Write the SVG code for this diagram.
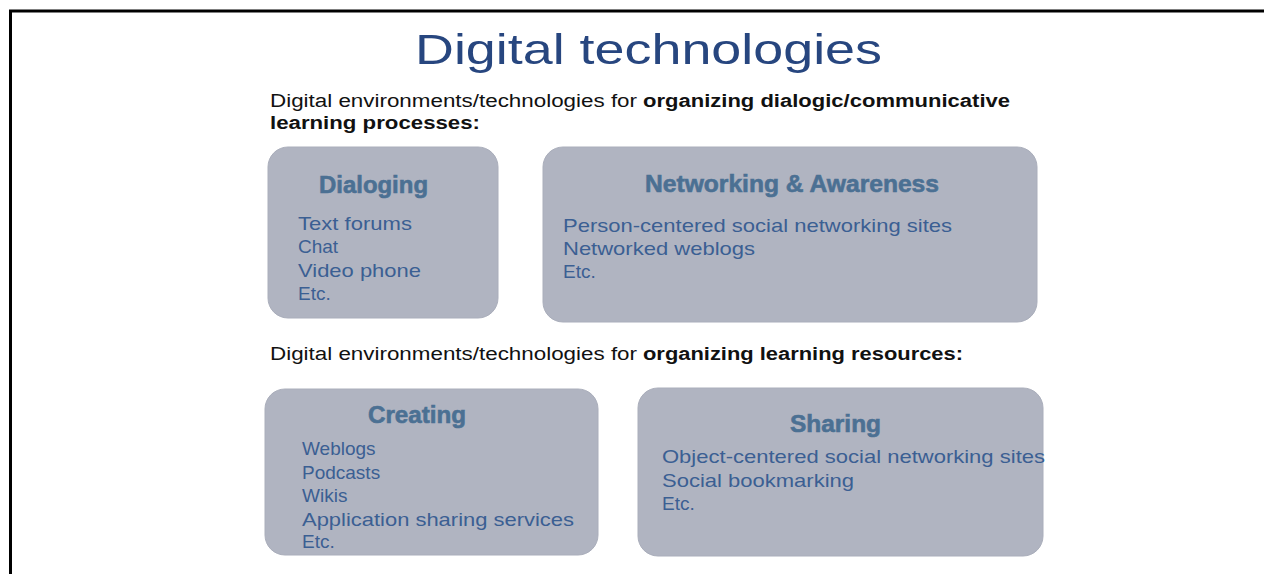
<svg xmlns="http://www.w3.org/2000/svg" width="1264" height="574" viewBox="0 0 1264 574">
<style>
.box{fill:#b0b4c1;stroke:#aaaebb;stroke-width:1}
.title{font-family:"Liberation Sans",Arial,sans-serif;font-size:43px;fill:#27467f}
.sub{font-family:"Liberation Sans",Arial,sans-serif;font-size:18px;fill:#111}
.subb{font-family:"Liberation Sans",Arial,sans-serif;font-size:18px;font-weight:bold;fill:#111}
.head{font-family:"Liberation Sans",Arial,sans-serif;font-size:24px;font-weight:bold;fill:#4b7093;stroke:#4b7093;stroke-width:0.6}
.item{font-family:"Liberation Sans",Arial,sans-serif;font-size:19px;fill:#3b5f93}
</style>
<rect width="1264" height="574" fill="#fff"/>
<path d="M10.5 574 V11 H1264" fill="none" stroke="#000" stroke-width="3"/>
<g id="title">
<text class="title" x="415" y="64" textLength="467" lengthAdjust="spacingAndGlyphs">Digital technologies</text>
</g>
<g id="subtitle1">
<text class="sub" x="270" y="107" textLength="367" lengthAdjust="spacingAndGlyphs">Digital environments/technologies for</text>
<text class="subb" x="643" y="107" textLength="367" lengthAdjust="spacingAndGlyphs">organizing dialogic/communicative</text>
<text class="subb" x="270" y="129" textLength="210" lengthAdjust="spacingAndGlyphs">learning processes:</text>
</g>
<g id="subtitle2">
<text class="sub" x="270" y="360" textLength="367" lengthAdjust="spacingAndGlyphs">Digital environments/technologies for</text>
<text class="subb" x="643" y="360" textLength="320" lengthAdjust="spacingAndGlyphs">organizing learning resources:</text>
</g>
<g id="dialoging">
<rect class="box" x="268" y="147" width="230" height="171" rx="20"/>
<text class="head" x="319" y="193" textLength="109" lengthAdjust="spacingAndGlyphs">Dialoging</text>
<text class="item" x="298" y="230" textLength="114" lengthAdjust="spacingAndGlyphs">Text forums</text>
<text class="item" x="298" y="253">Chat</text>
<text class="item" x="298" y="277" textLength="123" lengthAdjust="spacingAndGlyphs">Video phone</text>
<text class="item" x="298" y="300">Etc.</text>
</g>
<g id="networking">
<rect class="box" x="543" y="147" width="494" height="175" rx="20"/>
<text class="head" x="645" y="192" textLength="294" lengthAdjust="spacingAndGlyphs">Networking &amp; Awareness</text>
<text class="item" x="563" y="232" textLength="389" lengthAdjust="spacingAndGlyphs">Person-centered social networking sites</text>
<text class="item" x="563" y="255" textLength="192" lengthAdjust="spacingAndGlyphs">Networked weblogs</text>
<text class="item" x="563" y="278">Etc.</text>
</g>
<g id="creating">
<rect class="box" x="265" y="389" width="333" height="166" rx="20"/>
<text class="head" x="368" y="423" textLength="98" lengthAdjust="spacingAndGlyphs">Creating</text>
<text class="item" x="302" y="455">Weblogs</text>
<text class="item" x="302" y="479">Podcasts</text>
<text class="item" x="302" y="502">Wikis</text>
<text class="item" x="302" y="526" textLength="272" lengthAdjust="spacingAndGlyphs">Application sharing services</text>
<text class="item" x="302" y="548">Etc.</text>
</g>
<g id="sharing">
<rect class="box" x="638" y="388" width="405" height="168" rx="20"/>
<text class="head" x="790" y="432" textLength="91" lengthAdjust="spacingAndGlyphs">Sharing</text>
<text class="item" x="662" y="463" textLength="383" lengthAdjust="spacingAndGlyphs">Object-centered social networking sites</text>
<text class="item" x="662" y="487" textLength="192" lengthAdjust="spacingAndGlyphs">Social bookmarking</text>
<text class="item" x="662" y="510">Etc.</text>
</g>
<g id="connectors"/>
</svg>
